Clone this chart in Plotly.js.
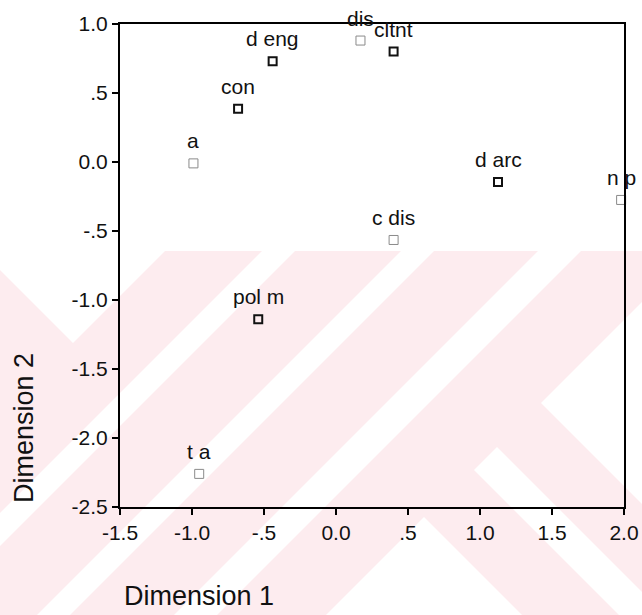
<!DOCTYPE html>
<html>
<head>
<meta charset="utf-8">
<script src="https://cdn.plot.ly/plotly-3.0.1.min.js"></script>
<style>html,body{margin:0;padding:0;background:#fff;}#chart{width:642px;height:615px;}</style>
</head>
<body>
<div id="chart"></div>
<script>
// Data
var labels = ["a", "con", "d eng", "dis", "cltnt", "d arc", "n p", "c dis", "pol m", "t a"];
var dim1   = [-0.99, -0.68, -0.44, 0.17, 0.40, 1.125, 1.98, 0.40, -0.54, -0.95];
var dim2   = [-0.01, 0.385, 0.73, 0.88, 0.80, -0.145, -0.275, -0.565, -1.14, -2.26];
var faint  = [true, false, false, true, false, false, true, true, false, true];

var xTickVals = [-1.5, -1.0, -0.5, 0.0, 0.5, 1.0, 1.5, 2.0];
var xTickText = ["-1.5", "-1.0", "-.5", "0.0", ".5", "1.0", "1.5", "2.0"];
var yTickVals = [1.0, 0.5, 0.0, -0.5, -1.0, -1.5, -2.0, -2.5];
var yTickText = ["1.0", ".5", "0.0", "-.5", "-1.0", "-1.5", "-2.0", "-2.5"];

var FONT = "Liberation Sans, Arial, sans-serif";
var M = {l: 120, r: 18, t: 24, b: 108};
var W = 642, H = 615;
var PW = W - M.l - M.r, PH = H - M.t - M.b;

// background watermark (decoration), pixel coords -> paper coords
function poly(pts, color) {
  var d = pts.map(function (p, i) {
    var x = (p[0] - M.l) / PW, y = (H - M.b - p[1]) / PH;
    return (i ? "L" : "M") + x.toFixed(4) + "," + y.toFixed(4);
  }).join(" ") + " Z";
  return {type: "path", xref: "paper", yref: "paper", path: d, fillcolor: color,
          line: {width: 0}, layer: "below"};
}
var PINK = "#fdecef", WHITE = "#ffffff";
var shapes = [
  poly([[0,251],[642,251],[642,615],[0,615]], PINK),
  poly([[0,251],[165,251],[73,343],[0,270]], WHITE),
  poly([[262,251],[295,251],[0,546],[0,513]], WHITE),
  poly([[401,251],[434,251],[70,615],[37,615]], WHITE),
  poly([[538,251],[581,251],[217,615],[174,615]], WHITE),
  poly([[541,403],[642,302],[642,504]], WHITE),
  poly([[424,517],[326,615],[522,615]], WHITE),
  poly([[497,447],[474,470],[619,615],[642,615],[642,592]], WHITE)
];

var faintIdx = [], darkIdx = [];
faint.forEach(function (f, i) { (f ? faintIdx : darkIdx).push(i); });
function pick(arr, idx) { return idx.map(function (i) { return arr[i]; }); }

function trace(idx, color, lw, size) {
  return {
    type: "scatter", mode: "markers",
    x: pick(dim1, idx), y: pick(dim2, idx),
    marker: {symbol: "square-open", size: size, color: color, line: {width: lw, color: color}},
    cliponaxis: false, hoverinfo: "skip", showlegend: false
  };
}

var data = [trace(faintIdx, "#8a8a8a", 1, 9), trace(darkIdx, "#111111", 2, 8)];

var pointLabels = labels.map(function (t, i) {
  return {text: t, x: dim1[i], y: dim2[i], xref: "x", yref: "y",
          xanchor: "center", yanchor: "bottom", yshift: 9, showarrow: false,
          font: {family: FONT, size: 21, color: "#111"}};
});

var axisCommon = {
  showgrid: false, zeroline: false, showline: true, mirror: true,
  linecolor: "#000", linewidth: 2, ticks: "outside", ticklen: 6, tickwidth: 2,
  tickcolor: "#000", tickfont: {family: FONT, size: 21, color: "#111"}, tickmode: "array"
};

var layout = {
  width: W, height: H, margin: M,
  paper_bgcolor: "#fff", plot_bgcolor: "rgba(0,0,0,0)",
  xaxis: Object.assign({}, axisCommon, {range: [-1.5, 2.0], tickvals: xTickVals, ticktext: xTickText, fixedrange: true}),
  yaxis: Object.assign({}, axisCommon, {range: [-2.5, 1.0], tickvals: yTickVals, ticktext: yTickText, fixedrange: true}),
  shapes: shapes,
  annotations: pointLabels.concat([
    {text: "Dimension 1", xref: "paper", yref: "paper",
     x: (199 - M.l) / PW, y: (H - M.b - 596) / PH, xanchor: "center", yanchor: "middle",
     showarrow: false, font: {family: FONT, size: 27, color: "#111"}},
    {text: "Dimension 2", xref: "paper", yref: "paper", textangle: -90,
     x: (24 - M.l) / PW, y: (H - M.b - 428) / PH, xanchor: "center", yanchor: "middle",
     showarrow: false, font: {family: FONT, size: 27, color: "#111"}}
  ])
};

Plotly.newPlot("chart", data, layout, {displayModeBar: false, staticPlot: true});
</script>
</body>
</html>
